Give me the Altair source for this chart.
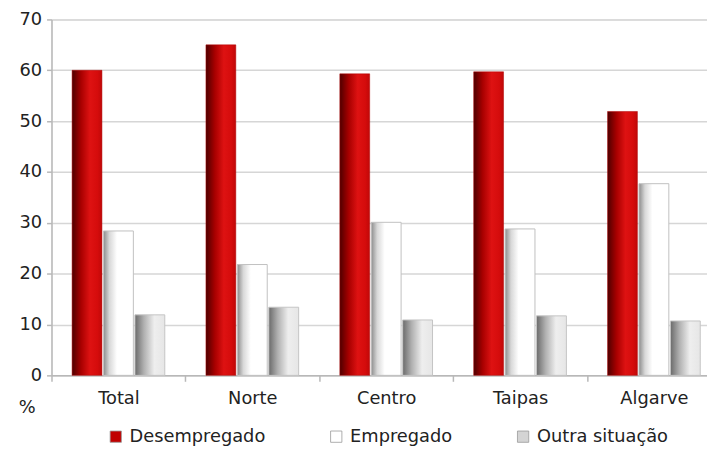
import altair as alt
import pandas as pd

regioes = ["Total", "Norte", "Centro", "Taipas", "Algarve"]
series = ["Desempregado", "Empregado", "Outra situação"]
desempregado = [60.0, 65.0, 59.3, 59.7, 51.9]
empregado = [28.4, 21.8, 30.1, 28.8, 37.7]
outra = [11.9, 13.4, 10.9, 11.7, 10.7]

rows = []
for i, r in enumerate(regioes):
    rows.append({"regiao": r, "serie": series[0], "valor": desempregado[i]})
    rows.append({"regiao": r, "serie": series[1], "valor": empregado[i]})
    rows.append({"regiao": r, "serie": series[2], "valor": outra[i]})
df = pd.DataFrame(rows)

FONT = "DejaVu Sans"


def grad(stops):
    return alt.LinearGradient(
        gradient="linear",
        stops=[alt.GradientStop(color=c, offset=o) for o, c in stops],
        x1=0, x2=1, y1=0, y2=0,
    )


red_grad = grad([(0, "#4e0000"), (0.3, "#a80000"), (0.6, "#de1212"), (0.85, "#d50c0c"), (1, "#c00808")])
white_grad = grad([(0, "#8c8c8c"), (0.2, "#d8d8d8"), (0.45, "#ffffff"), (1, "#ffffff")])
gray_grad = grad([(0, "#6a6a6a"), (0.3, "#b0b0b0"), (0.65, "#eeeeee"), (1, "#e6e6e6")])

x_enc = alt.X(
    "regiao:N",
    sort=regioes,
    scale=alt.Scale(domain=regioes, range=[0, 677], paddingInner=0, paddingOuter=0),
    axis=alt.Axis(
        title=None, labelAngle=0, tickBand="extent", tickSize=6,
        labelFont=FONT, labelFontSize=18, labelColor="#222222", labelPadding=8,
        domainColor="#b8b8b8", domainWidth=1.5, tickColor="#b8b8b8", tickWidth=1.5,
    ),
)
xoff_enc = alt.XOffset(
    "serie:N", sort=series,
    scale=alt.Scale(domain=series, paddingInner=0.05, paddingOuter=0.655),
)
y_enc = alt.Y(
    "valor:Q",
    scale=alt.Scale(domain=[0, 70], nice=False),
    axis=alt.Axis(
        values=[0, 10, 20, 30, 40, 50, 60, 70], title="%", titleAngle=0,
        titleX=-25, titleY=393, titleAlign="center", titleBaseline="middle",
        titleFont=FONT, titleFontSize=18, titleFontWeight="normal", titleColor="#222222",
        labelFont=FONT, labelFontSize=18, labelColor="#222222", labelPadding=5,
        tickSize=5, tickColor="#b8b8b8", tickWidth=1.5,
        domainColor="#b8b8b8", domainWidth=1.5,
        gridColor="#d6d6d6", gridWidth=1.5,
    ),
)

base = alt.Chart(df)

bar_red = base.transform_filter(alt.datum.serie == series[0]).mark_bar(
    color=red_grad, stroke="#b00000", strokeWidth=0.5
).encode(x=x_enc, xOffset=xoff_enc, y=y_enc)

bar_white = base.transform_filter(alt.datum.serie == series[1]).mark_bar(
    color=white_grad, stroke="#c0c0c0", strokeWidth=1
).encode(x=x_enc, xOffset=xoff_enc, y=y_enc)

bar_gray = base.transform_filter(alt.datum.serie == series[2]).mark_bar(
    color=gray_grad, stroke="#c4c4c4", strokeWidth=1
).encode(x=x_enc, xOffset=xoff_enc, y=y_enc)

legend_layer = base.transform_filter("false").mark_point(filled=True, shape="square").encode(
    x=x_enc,
    y=y_enc,
    color=alt.Color(
        "serie:N",
        scale=alt.Scale(domain=series, range=["#c00000", "#ffffff", "#d4d4d4"]),
        legend=alt.Legend(
            title=None, orient="none", direction="horizontal",
            legendX=56, legendY=413, padding=0,
            symbolType="square", symbolSize=130, symbolOpacity=1,
            symbolStrokeColor="#9a9a9a", symbolStrokeWidth=0.8,
            labelFont=FONT, labelFontSize=18, labelColor="#222222",
            labelOffset=5, columnPadding=62, labelLimit=300,
        ),
    ),
)

chart = alt.layer(bar_red, bar_white, bar_gray, legend_layer).properties(
    width=663,
    height=360,
    autosize=alt.AutoSizeParams(type="none"),
    padding={"left": 44, "top": 9, "right": 0, "bottom": 80},
).configure_view(stroke=None).configure(background="white")

chart.save("out.html", embed_options={"renderer": "svg", "actions": False})
